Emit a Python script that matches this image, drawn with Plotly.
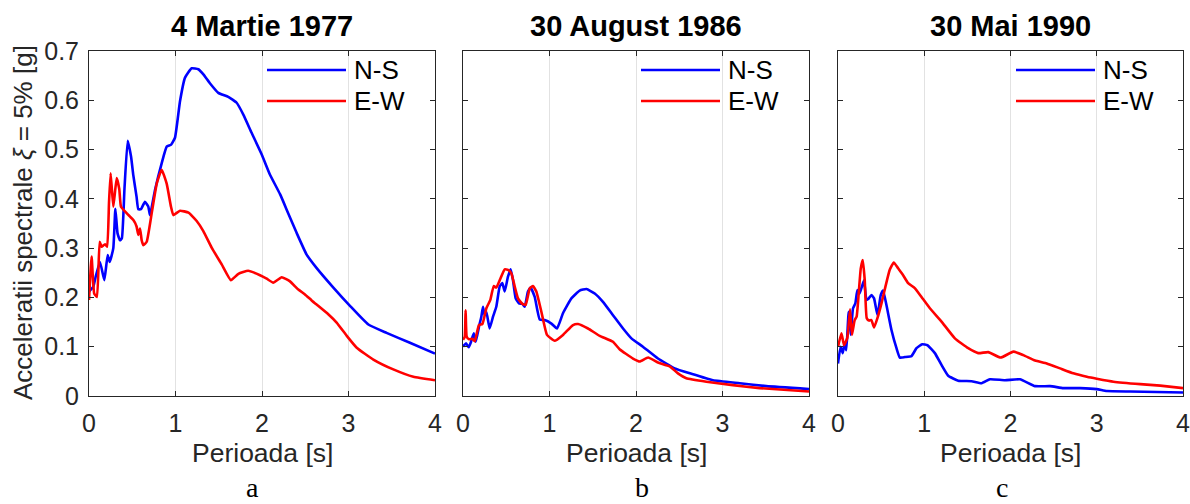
import plotly.graph_objects as go

# ---------------- data (period [s], spectral acceleration [g]) ----------------
titles = ["4 Martie 1977", "30 August 1986", "30 Mai 1990"]
letters = ["a", "b", "c"]
series_names = ["N-S", "E-W"]
x_ticks = [0, 1, 2, 3, 4]
y_ticks = [0, 0.1, 0.2, 0.3, 0.4, 0.5, 0.6, 0.7]

t_1977_ns = [0, 0.05, 0.077, 0.127, 0.177, 0.216, 0.24, 0.281, 0.305, 0.33, 0.358, 0.38, 0.41, 0.447,
             0.486, 0.512, 0.55, 0.57, 0.60, 0.647, 0.686, 0.705, 0.763, 0.84, 0.898, 0.95, 0.994,
             1.052, 1.11, 1.187, 1.264, 1.32, 1.40, 1.495, 1.61, 1.707, 1.784, 1.88, 1.997, 2.09,
             2.21, 2.30, 2.40, 2.516, 2.63, 2.825, 3.017, 3.23, 3.44, 3.71, 4.0]
sa_1977_ns = [0.212, 0.222, 0.242, 0.272, 0.235, 0.286, 0.272, 0.30, 0.38, 0.33, 0.316, 0.32, 0.42, 0.518,
              0.486, 0.448, 0.404, 0.379, 0.379, 0.394, 0.384, 0.367, 0.418, 0.472, 0.506, 0.51, 0.524,
              0.598, 0.646, 0.665, 0.663, 0.653, 0.634, 0.615, 0.607, 0.595, 0.571, 0.534, 0.49, 0.45,
              0.409, 0.372, 0.331, 0.287, 0.26, 0.22, 0.183, 0.145, 0.128, 0.108, 0.086]

t_1977_ew = [0, 0.03, 0.06, 0.092, 0.123, 0.145, 0.185, 0.21, 0.231, 0.25, 0.281, 0.32, 0.35, 0.37,
             0.435, 0.474, 0.513, 0.55, 0.57, 0.59, 0.609, 0.628, 0.667, 0.725, 0.783, 0.84, 0.898,
             0.948, 0.975, 1.052, 1.15, 1.245, 1.32, 1.418, 1.534, 1.64, 1.727, 1.84, 1.977, 2.054,
             2.13, 2.228, 2.32, 2.42, 2.497, 2.574, 2.65, 2.766, 2.863, 2.98, 3.095, 3.287, 3.518,
             3.75, 4.0]
sa_1977_ew = [0.195, 0.283, 0.208, 0.201, 0.313, 0.303, 0.308, 0.303, 0.391, 0.452, 0.384, 0.442, 0.42,
              0.384, 0.371, 0.364, 0.357, 0.344, 0.327, 0.34, 0.316, 0.306, 0.313, 0.371, 0.431, 0.459,
              0.431, 0.384, 0.367, 0.376, 0.372, 0.355, 0.335, 0.301, 0.267, 0.235, 0.248, 0.254,
              0.245, 0.238, 0.23, 0.241, 0.233, 0.216, 0.206, 0.194, 0.183, 0.166, 0.149, 0.122,
              0.098, 0.074, 0.054, 0.039, 0.032]

t_1986_ns = [0.0, 0.035, 0.066, 0.093, 0.124, 0.147, 0.185, 0.212, 0.231, 0.25, 0.27, 0.308, 0.347,
             0.385, 0.424, 0.455, 0.482, 0.52, 0.551, 0.578, 0.609, 0.647, 0.686, 0.713, 0.751, 0.782,
             0.829, 0.887, 0.944, 1.022, 1.087, 1.156, 1.253, 1.349, 1.427, 1.523, 1.618, 1.734, 1.85,
             1.947, 2.08, 2.254, 2.447, 2.64, 2.89, 3.2, 3.507, 4.0]
sa_1986_ns = [0.10, 0.107, 0.099, 0.11, 0.127, 0.11, 0.141, 0.161, 0.181, 0.164, 0.171, 0.137, 0.161,
              0.181, 0.222, 0.229, 0.212, 0.242, 0.257, 0.235, 0.198, 0.188, 0.187, 0.181, 0.212, 0.22,
              0.201, 0.155, 0.154, 0.147, 0.137, 0.168, 0.198, 0.214, 0.217, 0.208, 0.191, 0.164, 0.137,
              0.117, 0.10, 0.076, 0.056, 0.045, 0.032, 0.026, 0.020, 0.014]

t_1986_ew = [0.0, 0.02, 0.03, 0.043, 0.07, 0.108, 0.135, 0.185, 0.224, 0.27, 0.316, 0.355, 0.385, 0.432,
             0.482, 0.52, 0.559, 0.598, 0.636, 0.686, 0.725, 0.771, 0.809, 0.848, 0.906, 0.971, 1.06,
             1.156, 1.272, 1.33, 1.445, 1.58, 1.734, 1.81, 1.965, 2.043, 2.14, 2.254, 2.39, 2.485,
             2.582, 2.814, 3.12, 3.43, 4.0]
sa_1986_ew = [0.114, 0.12, 0.174, 0.12, 0.115, 0.116, 0.111, 0.144, 0.146, 0.178, 0.195, 0.223, 0.22,
              0.238, 0.257, 0.256, 0.249, 0.222, 0.198, 0.187, 0.185, 0.218, 0.223, 0.212, 0.171,
              0.124, 0.112, 0.124, 0.144, 0.146, 0.137, 0.122, 0.11, 0.095, 0.076, 0.07, 0.078, 0.068,
              0.06, 0.046, 0.036, 0.029, 0.022, 0.016, 0.009]

t_1990_ns = [0.0, 0.03, 0.054, 0.077, 0.096, 0.124, 0.147, 0.174, 0.201, 0.225, 0.25, 0.279, 0.302,
             0.33, 0.357, 0.388, 0.418, 0.458, 0.496, 0.523, 0.561, 0.62, 0.678, 0.717, 0.775, 0.852,
             0.91, 0.976, 1.037, 1.123, 1.2, 1.278, 1.394, 1.549, 1.665, 1.762, 1.936, 2.11, 2.285,
             2.459, 2.613, 2.807, 3.0, 3.117, 3.388, 4.0]
sa_1990_ns = [0.066, 0.10, 0.087, 0.107, 0.093, 0.171, 0.124, 0.178, 0.188, 0.215, 0.208, 0.223, 0.235,
              0.195, 0.198, 0.205, 0.198, 0.164, 0.205, 0.214, 0.185, 0.134, 0.097, 0.078, 0.079,
              0.081, 0.097, 0.105, 0.103, 0.087, 0.063, 0.041, 0.031, 0.03, 0.026, 0.034, 0.032,
              0.034, 0.02, 0.02, 0.016, 0.016, 0.014, 0.01, 0.009, 0.007]

t_1990_ew = [0.0, 0.04, 0.07, 0.108, 0.14, 0.162, 0.193, 0.216, 0.24, 0.264, 0.287, 0.31, 0.333, 0.36,
             0.387, 0.418, 0.457, 0.504, 0.55, 0.60, 0.647, 0.697, 0.755, 0.813, 0.89, 0.968, 1.065,
             1.20, 1.355, 1.51, 1.626, 1.742, 1.886, 2.033, 2.149, 2.285, 2.42, 2.575, 2.729, 2.885,
             3.0, 3.194, 3.504, 3.736, 4.0]
sa_1990_ew = [0.10, 0.127, 0.103, 0.118, 0.176, 0.124, 0.154, 0.161, 0.208, 0.259, 0.276, 0.235, 0.158,
              0.153, 0.154, 0.139, 0.158, 0.188, 0.222, 0.256, 0.271, 0.259, 0.245, 0.229, 0.219,
              0.201, 0.178, 0.151, 0.117, 0.097, 0.087, 0.089, 0.078, 0.09, 0.083, 0.072, 0.066,
              0.056, 0.046, 0.039, 0.035, 0.029, 0.024, 0.021, 0.016]

# ---------------- figure ----------------
W, H = 1190, 504
FONT = "Liberation Sans, Arial, Helvetica, sans-serif"
AX = "#262626"
colors = ["#0000ff", "#ff0000"]

panels = [
    (t_1977_ns, sa_1977_ns, t_1977_ew, sa_1977_ew),
    (t_1986_ns, sa_1986_ns, t_1986_ew, sa_1986_ew),
    (t_1990_ns, sa_1990_ns, t_1990_ew, sa_1990_ew),
]
# plot-area pixel boxes (left, right); shared top/bottom
x_px = [(89, 435), (463, 809), (838, 1183)]
top_px, bot_px = 51, 396

fig = go.Figure()
layout = dict(width=W, height=H, margin=dict(l=0, r=0, t=0, b=0, pad=0, autoexpand=False),
              autosize=False, paper_bgcolor="white", plot_bgcolor="white", showlegend=False,
              font=dict(family=FONT, color=AX))
annotations = []
shapes = []

for i, (tn, an, te, ae) in enumerate(panels):
    sfx = "" if i == 0 else str(i + 1)
    xa, ya = "x" + sfx, "y" + sfx
    for (t, a), c, nm in zip([(tn, an), (te, ae)], colors, series_names):
        fig.add_trace(go.Scatter(x=t, y=a, mode="lines", name=nm, xaxis=xa, yaxis=ya,
                                 line=dict(color=c, width=2.6, shape="spline", smoothing=0.4)))
    l, r = x_px[i]
    layout["xaxis" + sfx] = dict(
        domain=[l / W, r / W], range=[0, 4], tickvals=x_ticks, anchor=ya, automargin=False,
        showgrid=True, gridcolor="#e2e2e2", gridwidth=1, zeroline=False,
        showline=True, linecolor=AX, linewidth=1, mirror="ticks",
        ticks="inside", ticklen=5, tickcolor=AX, tickwidth=1, ticklabeloverflow="allow",
        tickfont=dict(size=25, color=AX, family=FONT), ticklabelstandoff=5)
    layout["yaxis" + sfx] = dict(
        domain=[1 - bot_px / H, 1 - top_px / H], range=[0, 0.7], tickvals=y_ticks, anchor=xa,
        automargin=False, showgrid=False, zeroline=False,
        showline=True, linecolor=AX, linewidth=1, mirror="ticks",
        ticks="inside", ticklen=5, tickcolor=AX, tickwidth=1,
        showticklabels=(i == 0),
        tickfont=dict(size=25, color=AX, family=FONT), ticklabelstandoff=4)
    cx = (l + r) / 2
    # title
    annotations.append(dict(text="<b>%s</b>" % titles[i], x=cx / W, y=1 - 26 / H, xref="paper",
                            yref="paper", showarrow=False, xanchor="center", yanchor="middle",
                            font=dict(size=29, color="black", family=FONT)))
    # x axis title
    annotations.append(dict(text="Perioada [s]", x=cx / W, y=1 - 453 / H, xref="paper", yref="paper",
                            showarrow=False, xanchor="center", yanchor="middle",
                            font=dict(size=26.5, color=AX, family=FONT)))
    # legend
    for k, (nm, c) in enumerate(zip(series_names, colors)):
        ly = 70 + k * 31
        shapes.append(dict(type="line", xref="paper", yref="paper",
                           x0=(l + 178) / W, x1=(l + 257) / W, y0=1 - ly / H, y1=1 - ly / H,
                           line=dict(color=c, width=2.6)))
        annotations.append(dict(text=nm, x=(l + 263) / W, y=1 - ly / H, xref="paper", yref="paper",
                                showarrow=False, xanchor="left", yanchor="middle",
                                font=dict(size=26, color="black", family=FONT)))

# letters under panels
for txt, lx in zip(letters, [252, 642, 1002]):
    annotations.append(dict(text=txt, x=lx / W, y=0, xref="paper", yref="paper",
                            showarrow=False, xanchor="center", yanchor="bottom", borderpad=0,
                            font=dict(size=28, color="black",
                                      family="Liberation Serif, Times New Roman, serif")))

# y axis title
annotations.append(dict(text="Acceleratii spectrale <i>ξ</i> = 5% [g]", x=23 / W,
                        y=1 - 223 / H, xref="paper", yref="paper", showarrow=False,
                        textangle=-90, xanchor="center", yanchor="middle",
                        font=dict(size=26, color=AX, family=FONT)))

layout["annotations"] = annotations
layout["shapes"] = shapes
fig.update_layout(**layout)
fig.write_html("out.html")
